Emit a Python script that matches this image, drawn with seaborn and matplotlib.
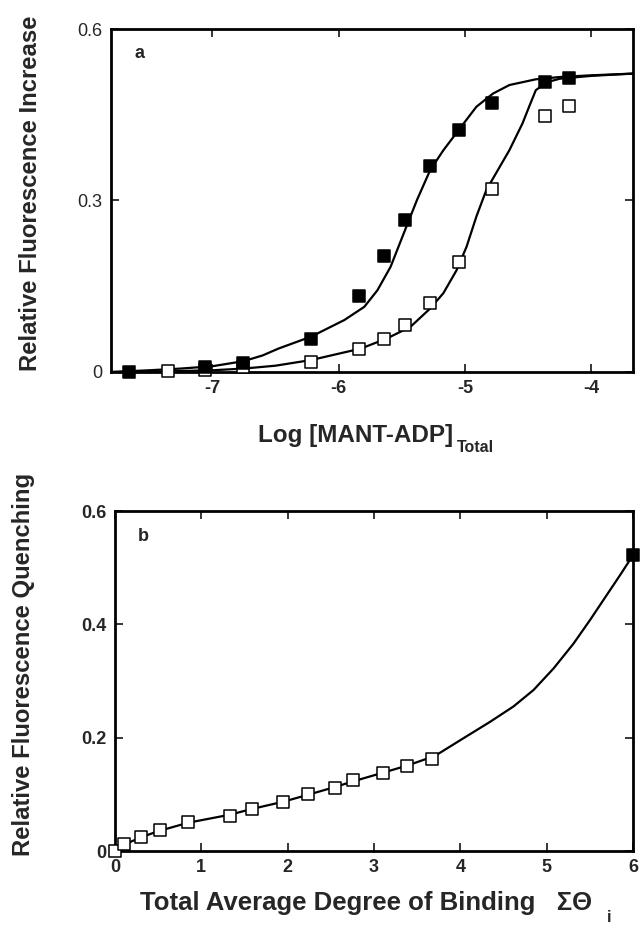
import matplotlib
matplotlib.use("Agg")
import matplotlib.pyplot as plt
import seaborn as sns
from matplotlib.ticker import FixedLocator, FuncFormatter

sns.set_style("ticks")
plt.rcParams['font.family'] = ['Liberation Sans', 'DejaVu Sans']
plt.rcParams['axes.unicode_minus'] = False

# ---- Panel a data ----
a_filled_x = [-7.655, -7.054, -6.756, -6.215, -5.836, -5.641, -5.475, -5.278, -5.045, -4.785, -4.365, -4.176]
a_filled_y = [0.0, 0.009, 0.016, 0.057, 0.133, 0.203, 0.266, 0.361, 0.424, 0.471, 0.507, 0.515]
a_open_x = [-7.352, -7.054, -6.756, -6.215, -5.836, -5.641, -5.475, -5.278, -5.045, -4.785, -4.365, -4.176]
a_open_y = [0.002, 0.004, 0.009, 0.018, 0.040, 0.057, 0.083, 0.120, 0.192, 0.320, 0.448, 0.465]

a_fit1_x = [-7.8, -7.5, -7.25, -7.0, -6.75, -6.6, -6.475, -6.215, -5.953, -5.796, -5.692, -5.588,
            -5.483, -5.379, -5.275, -5.170, -5.040, -4.909, -4.778, -4.648, -4.439, -4.25, -4.0, -3.67]
a_fit1_y = [0.0, 0.003, 0.006, 0.010, 0.019, 0.029, 0.041, 0.062, 0.091, 0.114, 0.143, 0.184,
            0.243, 0.301, 0.353, 0.388, 0.426, 0.464, 0.487, 0.502, 0.512, 0.516, 0.519, 0.522]
a_fit2_x = [-7.8, -7.4, -7.0, -6.75, -6.5, -6.215, -5.823, -5.614, -5.431, -5.275, -5.170, -5.066,
            -4.987, -4.909, -4.831, -4.753, -4.648, -4.544, -4.492, -4.439, -4.35, -4.25, -4.0, -3.67]
a_fit2_y = [0.0, 0.001, 0.003, 0.006, 0.011, 0.021, 0.041, 0.059, 0.079, 0.111, 0.138, 0.178,
            0.219, 0.272, 0.318, 0.348, 0.388, 0.435, 0.464, 0.493, 0.507, 0.513, 0.518, 0.522]

a_xticks = [-7, -6, -5, -4]
a_yticks = [0, 0.3, 0.6]

# ---- Panel b data ----
b_open_x = [0.0, 0.103, 0.30, 0.517, 0.848, 1.333, 1.584, 1.946, 2.232, 2.547, 2.762, 3.108, 3.386, 3.677]
b_open_y = [0.0, 0.012, 0.025, 0.037, 0.051, 0.062, 0.075, 0.086, 0.101, 0.112, 0.125, 0.137, 0.150, 0.162]
b_filled_x = [6.0]
b_filled_y = [0.522]
b_fit_x = [0.0, 0.1, 0.3, 0.5, 0.85, 1.33, 1.58, 1.95, 2.23, 2.55, 2.76, 3.1, 3.39, 3.708,
           4.036, 4.345, 4.615, 4.847, 5.079, 5.311, 5.504, 5.697, 5.851, 6.0]
b_fit_y = [0.0, 0.011, 0.024, 0.035, 0.050, 0.064, 0.074, 0.087, 0.099, 0.113, 0.123, 0.138, 0.151, 0.168,
           0.199, 0.228, 0.255, 0.284, 0.322, 0.366, 0.408, 0.452, 0.487, 0.522]

b_xticks = [0, 1, 2, 3, 4, 5, 6]
b_yticks = [0, 0.2, 0.4, 0.6]

W, H = 641, 927
fig = plt.figure(figsize=(W / 100, H / 100), dpi=100)

def px_axes(l, r, t, b):
    return [l / W, 1 - b / H, (r - l) / W, (b - t) / H]

ax1 = fig.add_axes(px_axes(111, 633, 29, 372))
ax2 = fig.add_axes(px_axes(115, 633, 511, 851))

def fmt(v, pos):
    if abs(v) < 1e-9:
        return "0"
    return f"{v:g}"

def style(ax, xweight, yweight):
    for s in ax.spines.values():
        s.set_visible(True)
        s.set_linewidth(2.0)
        s.set_color("black")
    ax.tick_params(direction="in", top=True, right=True, length=6, width=1.3,
                   labelsize=13, pad=6)
    ax.yaxis.set_major_formatter(FuncFormatter(fmt))
    for lab in ax.get_xticklabels():
        lab.set_fontweight(xweight)
    for lab in ax.get_yticklabels():
        lab.set_fontweight(yweight)

MS = 68

# Panel a
sns.lineplot(x=a_fit1_x, y=a_fit1_y, ax=ax1, color="black", lw=1.6, sort=False)
sns.lineplot(x=a_fit2_x, y=a_fit2_y, ax=ax1, color="black", lw=1.6, sort=False)
sns.scatterplot(x=a_open_x, y=a_open_y, ax=ax1, marker="s", s=MS, facecolor="white",
                edgecolor="black", linewidth=1.1, zorder=3, clip_on=False)
sns.scatterplot(x=a_filled_x, y=a_filled_y, ax=ax1, marker="s", s=MS, color="black",
                edgecolor="black", linewidth=1.1, zorder=4, clip_on=False)
ax1.set_xlim(-7.8, -3.67)
ax1.set_ylim(0, 0.6)
ax1.xaxis.set_major_locator(FixedLocator(a_xticks))
ax1.yaxis.set_major_locator(FixedLocator(a_yticks))
style(ax1, "bold", "normal")
ax1.set_xlabel("")
ax1.set_ylabel("")
ax1.text(0.045, 0.93, "a", transform=ax1.transAxes, fontsize=13, fontweight="bold",
         ha="left", va="center")

# Panel b
sns.lineplot(x=b_fit_x, y=b_fit_y, ax=ax2, color="black", lw=1.6, sort=False)
sns.scatterplot(x=b_open_x, y=b_open_y, ax=ax2, marker="s", s=MS, facecolor="white",
                edgecolor="black", linewidth=1.1, zorder=3, clip_on=False)
sns.scatterplot(x=b_filled_x, y=b_filled_y, ax=ax2, marker="s", s=MS, color="black",
                edgecolor="black", linewidth=1.1, zorder=4, clip_on=False)
ax2.set_xlim(0, 6)
ax2.set_ylim(0, 0.6)
ax2.xaxis.set_major_locator(FixedLocator(b_xticks))
ax2.yaxis.set_major_locator(FixedLocator(b_yticks))
style(ax2, "bold", "bold")
ax2.set_xlabel("")
ax2.set_ylabel("")
ax2.text(0.045, 0.925, "b", transform=ax2.transAxes, fontsize=13, fontweight="bold",
         ha="left", va="center")

# Axis titles (placed in figure pixels), subscripts as separate text
fig.text(258 / W, 1 - 442 / H, "Log [MANT-ADP]", fontsize=17.5,
         fontweight="bold", ha="left", va="baseline")
fig.text(457 / W, 1 - 452 / H, "Total", fontsize=11.5,
         fontweight="bold", ha="left", va="baseline")
fig.text(140 / W, 1 - 910 / H, "Total Average Degree of Binding   \u03a3\u0398",
         fontsize=18.5, fontweight="bold", ha="left", va="baseline")
fig.text(607 / W, 1 - 922 / H, "i", fontsize=11.5,
         fontweight="bold", ha="left", va="baseline")
fig.text(31 / W, 1 - 193 / H, "Relative Fluorescence Increase", fontsize=17.2,
         fontweight="bold", rotation=90, ha="center", va="center")
fig.text(24 / W, 1 - 664 / H, "Relative Fluorescence Quenching", fontsize=17.2,
         fontweight="bold", rotation=90, ha="center", va="center")

fig.savefig("out.png", dpi=100)
